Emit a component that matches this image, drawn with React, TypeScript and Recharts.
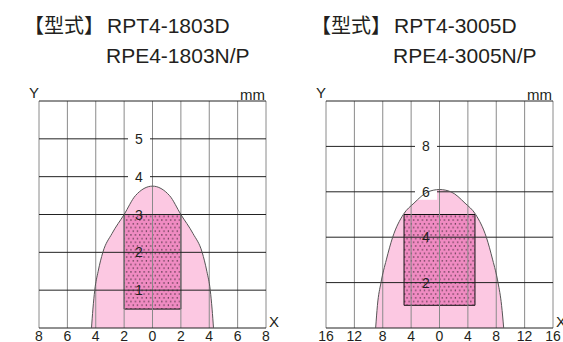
import React from "react";
import {
  ComposedChart,
  Area,
  Scatter,
  XAxis,
  YAxis,
  CartesianGrid,
  ReferenceArea,
} from "recharts";

// left panel: RPT4-1803D / RPE4-1803N/P
const leftXTicks = [-8, -6, -4, -2, 0, 2, 4, 6, 8];
const leftYTicks = [0, 1, 2, 3, 4, 5, 6];
const leftYLabels = [1, 2, 3, 4, 5];
const leftCurveX = [-4.3, -4.2, -4.07, -3.83, -3.5, -2.85, -2.0, -1.2, 0, 1.2, 2.0, 2.85, 3.5, 3.83, 4.07, 4.2, 4.3];
const leftCurveY = [0, 0.5, 1, 1.5, 2, 2.5, 3, 3.5, 3.75, 3.5, 3, 2.5, 2, 1.5, 1, 0.5, 0];
const leftZoneX = [-2, 2];
const leftZoneY = [0.5, 3];

// right panel: RPT4-3005D / RPE4-3005N/P
const rightXTicks = [-16, -12, -8, -4, 0, 4, 8, 12, 16];
const rightYTicks = [0, 2, 4, 6, 8, 10];
const rightYLabels = [2, 4, 6, 8];
const rightCurveX = [-9.0, -8.75, -8.25, -7.5, -6.6, -5.1, -3.6, -1.6, 0, 1.6, 3.6, 5.1, 6.6, 7.5, 8.25, 8.75, 9.05];
const rightCurveY = [0, 1, 2, 3, 4, 5, 5.5, 6, 6.1, 6, 5.5, 5, 4, 3, 2, 1, 0];
const rightZoneX = [-5, 5];
const rightZoneY = [1, 5];

const FONT = '"Liberation Sans", Arial, Helvetica, sans-serif';
const CJK = '"Noto Sans CJK JP", sans-serif';
const INK = "#231f20";

type PanelProps = {
  id: string;
  left: number;
  width: number;
  model1: string;
  model2: string;
  xTicks: number[];
  yTicks: number[];
  yLabels: number[];
  curveX: number[];
  curveY: number[];
  zoneX: number[];
  zoneY: number[];
};

function Panel(p: PanelProps) {
  const curve = p.curveX.map((x, i) => ({ x, y: p.curveY[i] }));
  const labels = p.yLabels.map((v) => ({ x: 0, y: v }));
  const zoneTop = p.zoneY[1];

  // white gap in the grid line behind labels that sit above the dotted zone
  const renderLabelBg = (props: any) => {
    const { cx, cy, payload } = props;
    if (!(payload.y > zoneTop)) return <g />;
    return <rect x={cx - 24.5} y={cy - 8} width={22} height={16} fill="#fff" />;
  };

  const renderLabel = (props: any) => {
    const { cx, cy, payload } = props;
    return (
      <text x={cx - 13.5} y={cy + 5} textAnchor="middle" fontSize={14} fill={INK} fontFamily={FONT}>
        {payload.y}
      </text>
    );
  };

  return (
    <div style={{ position: "absolute", left: p.left, top: 0, width: p.width, height: 342 }}>
      <ComposedChart
        width={p.width}
        height={342}
        margin={{ top: 101, left: 39, right: p.width - 266, bottom: 0 }}
      >
        <defs>
          <pattern id={`dots-${p.id}`} width={4.4} height={7.4} patternUnits="userSpaceOnUse">
            <rect width={4.4} height={7.4} fill="#f08bc2" />
            <rect x={0.6} y={1.2} width={1.2} height={1.2} fill="#3b2733" />
            <rect x={2.8} y={4.9} width={1.2} height={1.2} fill="#3b2733" />
          </pattern>
        </defs>
        <XAxis
          type="number"
          dataKey="x"
          domain={[p.xTicks[0], p.xTicks[p.xTicks.length - 1]]}
          ticks={p.xTicks}
          interval={0}
          allowDataOverflow
          tickFormatter={(v: number) => String(Math.abs(v))}
          axisLine={false}
          tickLine={false}
          height={14}
          tickSize={3}
          tickMargin={0}
          tick={{ fontSize: 14, fill: INK, fontFamily: FONT }}
        />
        <YAxis
          type="number"
          dataKey="y"
          domain={[0, p.yTicks[p.yTicks.length - 1]]}
          ticks={p.yTicks}
          allowDataOverflow
          hide
          width={0}
        />
        <Area
          data={curve}
          dataKey="y"
          type="monotone"
          fill="#fcc8e2"
          fillOpacity={1}
          stroke="none"
          isAnimationActive={false}
          zIndex={100}
        />
        <ReferenceArea
          x1={p.zoneX[0]}
          x2={p.zoneX[1]}
          y1={p.zoneY[0]}
          y2={p.zoneY[1]}
          fill={`url(#dots-${p.id})`}
          fillOpacity={1}
          stroke="#111"
          strokeWidth={1}
          zIndex={150}
        />
        <CartesianGrid horizontal={false} stroke="#8a8a8a" strokeWidth={1} zIndex={300} />
        <CartesianGrid vertical={false} stroke="#222" strokeWidth={1} zIndex={310} />
        <Scatter
          data={labels}
          dataKey="y"
          shape={renderLabelBg}
          isAnimationActive={false}
          zIndex={350}
        />
        <Area
          data={curve}
          dataKey="y"
          type="monotone"
          fill="none"
          stroke="#555"
          strokeWidth={1}
          isAnimationActive={false}
          zIndex={400}
        />
        <Scatter
          data={labels}
          dataKey="y"
          shape={renderLabel}
          isAnimationActive={false}
          zIndex={700}
        />
      </ComposedChart>
      <svg
        width={p.width}
        height={342}
        style={{ position: "absolute", left: 0, top: 0, pointerEvents: "none" }}
      >
        <text x={24} y={32.7} fontSize={20} fill={INK} fontFamily={CJK}>
          【型式】
        </text>
        <text x={107} y={32.7} fontSize={21} fill={INK} fontFamily={FONT}>
          {p.model1}
        </text>
        <text x={106} y={62.7} fontSize={21} fill={INK} fontFamily={FONT}>
          {p.model2}
        </text>
        <text x={34} y={98} fontSize={15} textAnchor="middle" fill={INK} fontFamily={FONT}>
          Y
        </text>
        <text x={265} y={100} fontSize={15} textAnchor="end" fill={INK} fontFamily={FONT}>
          mm
        </text>
        <text x={269} y={327} fontSize={15} fill={INK} fontFamily={FONT}>
          X
        </text>
      </svg>
    </div>
  );
}

export default function App() {
  return (
    <div
      style={{
        position: "absolute",
        left: 0,
        top: 0,
        width: 563,
        height: 342,
        background: "#fff",
        overflow: "hidden",
      }}
    >
      <Panel
        id="l"
        left={0}
        width={290}
        model1="RPT4-1803D"
        model2="RPE4-1803N/P"
        xTicks={leftXTicks}
        yTicks={leftYTicks}
        yLabels={leftYLabels}
        curveX={leftCurveX}
        curveY={leftCurveY}
        zoneX={leftZoneX}
        zoneY={leftZoneY}
      />
      <Panel
        id="r"
        left={287}
        width={276}
        model1="RPT4-3005D"
        model2="RPE4-3005N/P"
        xTicks={rightXTicks}
        yTicks={rightYTicks}
        yLabels={rightYLabels}
        curveX={rightCurveX}
        curveY={rightCurveY}
        zoneX={rightZoneX}
        zoneY={rightZoneY}
      />
    </div>
  );
}
